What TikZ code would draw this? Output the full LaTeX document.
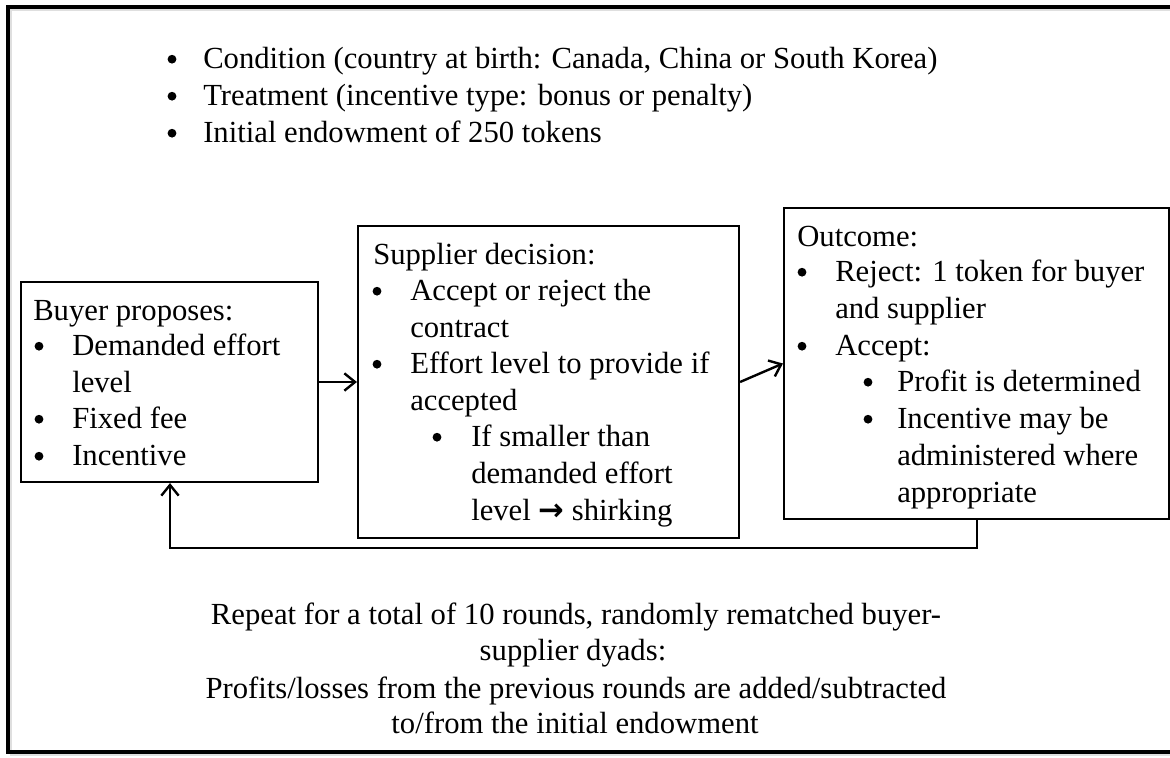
\documentclass[tikz,border=0pt]{standalone}
\usepackage{fontspec}
\setmainfont{Liberation Serif}
\newfontfamily\dejavu{DejaVu Sans}
\usetikzlibrary{arrows.meta}
\newcommand{\mainsz}{\fontsize{23}{28}\selectfont}
\tikzset{
  box/.style={draw=black, line width=1.6pt, rectangle, inner sep=0pt, fill=white},
  txt/.style={anchor=base west, inner sep=0pt, font=\mainsz},
  ctr/.style={anchor=base, inner sep=0pt, font=\mainsz},
  bul/.style={circle, fill=black, inner sep=0pt, minimum size=6.6pt, yshift=6.6pt},
  arr/.style={line width=1.8pt, -{Straight Barb[length=8pt,width=13pt,line width=1.8pt]}},
}
\begin{document}
\begin{tikzpicture}[x=0.75pt,y=-0.75pt]
\useasboundingbox (0,0) rectangle (1170,757);
% outer frame (right side beyond the visible area)
\draw[gray!25, line width=2pt] (11,10) rectangle (1190,755);
\draw[black, line width=2.4pt] (8,7) rectangle (1185,752);

% top list
\node[bul] (tb1) at (172,68) {};
\node[txt] (tt1) at (203,68) {Condition (country at birth: Canada, China or South Korea)};
\node[bul] (tb2) at (172,105) {};
\node[txt] (tt2) at (203,105) {Treatment (incentive type: bonus or penalty)};
\node[bul] (tb3) at (172,142) {};
\node[txt] (tt3) at (203,142) {Initial endowment of 250 tokens};

% boxes
\node[box, minimum width=222.75pt, minimum height=150pt] (buyer) at (169.5,382) {};
\node[box, minimum width=285.75pt, minimum height=234pt] (supplier) at (548.5,382) {};
\node[box, minimum width=288.75pt, minimum height=233.25pt] (outcome) at (976.5,363.5) {};

% buyer text
\node[txt] (bh) at (33,320) {Buyer proposes:};
\node[bul] (bb1) at (39,355) {};
\node[txt] (bt1) at (72,355) {Demanded effort};
\node[txt] (bt1b) at (72,392) {level};
\node[bul] (bb2) at (39,428) {};
\node[txt] (bt2) at (72,428) {Fixed fee};
\node[bul] (bb3) at (39,465) {};
\node[txt] (bt3) at (72,465) {Incentive};

% supplier text
\node[txt] (sh) at (373,264) {Supplier decision:};
\node[bul] (sb1) at (377,300) {};
\node[txt] (st1) at (410,300) {Accept or reject the};
\node[txt] (st1b) at (410,337) {contract};
\node[bul] (sb2) at (377,373) {};
\node[txt] (st2) at (410,373) {Effort level to provide if};
\node[txt] (st2b) at (410,410) {accepted};
\node[bul] (sb3) at (437,446) {};
\node[txt] (st3) at (471,446) {If smaller than};
\node[txt] (st3b) at (471,483) {demanded effort};
\node[txt] (st3c) at (471,520) {level {\dejavu\bfseries →} shirking};

% outcome text
\node[txt] (oh) at (797,246) {Outcome:};
\node[bul] (ob1) at (802,281) {};
\node[txt] (ot1) at (835,281) {Reject: 1 token for buyer};
\node[txt] (ot1b) at (835,318) {and supplier};
\node[bul] (ob2) at (802,355) {};
\node[txt] (ot2) at (835,355) {Accept:};
\node[bul] (ob3) at (868,391) {};
\node[txt] (ot3) at (897,391) {Profit is determined};
\node[bul] (ob4) at (868,428) {};
\node[txt] (ot4) at (897,428) {Incentive may be};
\node[txt] (ot4b) at (897,465) {administered where};
\node[txt] (ot4c) at (897,502) {appropriate};

% connectors
\draw[arr] (buyer.east) -- (supplier.west |- buyer.east);
\draw[arr] (supplier.east) -- (outcome.west);
\coordinate (fbR) at (977,548);
\coordinate (fbL) at (170,548);
\draw[arr] (outcome.south -| fbR) -- (fbR) -- (fbL) -- (buyer.south -| fbL);

% bottom text
\node[ctr] (r1) at (576,624) {Repeat for a total of 10 rounds, randomly rematched buyer-};
\node[ctr] (r2) at (573,660) {supplier dyads:};
\node[ctr] (r3) at (576,698) {Profits/losses from the previous rounds are added/subtracted};
\node[ctr] (r4) at (575,733) {to/from the initial endowment};
\end{tikzpicture}
\end{document}
